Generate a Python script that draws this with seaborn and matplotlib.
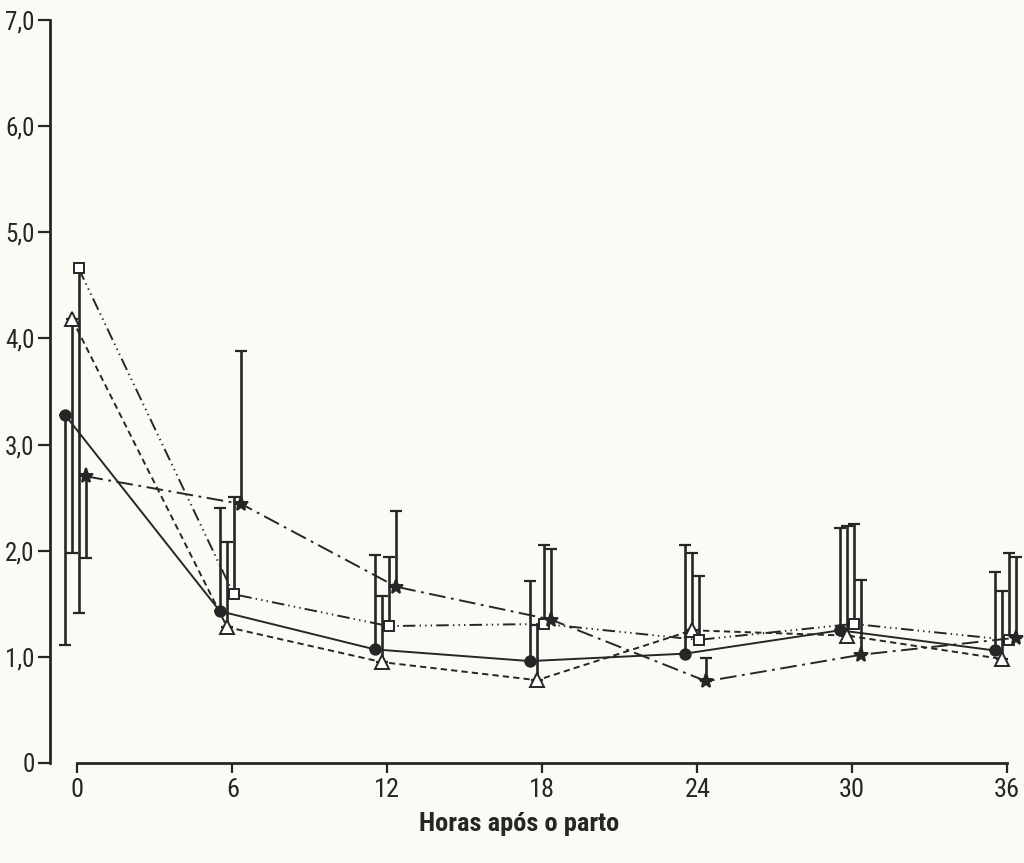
import matplotlib
matplotlib.use('Agg')
import matplotlib.pyplot as plt
import numpy as np
import pandas as pd
import seaborn as sns

# Horas após o parto
horas = [0, 6, 12, 18, 24, 30, 36]

# Médias e desvios (4 grupos)
circulo_media = [3.28, 1.43, 1.07, 0.96, 1.03, 1.25, 1.06]
circulo_dp = [2.17, 0.97, 0.89, 0.75, 1.02, 0.96, 0.74]

triangulo_media = [4.18, 1.28, 0.95, 0.78, 1.25, 1.20, 0.98]
triangulo_dp = [2.20, 0.80, 0.62, 0.52, 0.73, 1.03, 0.64]

quadrado_media = [4.66, 1.59, 1.29, 1.31, 1.16, 1.31, 1.16]
quadrado_dp = [3.25, 0.92, 0.65, 0.74, 0.60, 0.94, 0.82]

estrela_media = [2.70, 2.44, 1.66, 1.35, 0.77, 1.02, 1.18]
estrela_dp = [0.77, 1.44, 0.71, 0.67, 0.22, 0.70, 0.76]

y_ticks = [0, 1, 2, 3, 4, 5, 6, 7]
y_labels = ['0', '1,0', '2,0', '3,0', '4,0', '5,0', '6,0', '7,0']

sns.set_theme(style='ticks')
plt.rcParams['font.family'] = ['Roboto Condensed', 'Liberation Sans Narrow',
                               'Liberation Sans', 'DejaVu Sans']
plt.rcParams['lines.scale_dashes'] = False

TINTA = '#262626'
PAPEL = '#fbfbf6'

fig = plt.figure(figsize=(10.24, 8.63), dpi=100, facecolor=PAPEL)
ax = fig.add_axes([0.0488, 0.1159, 0.9512, 0.8609])
ax.set_facecolor(PAPEL)

series = [
    # media, dp, deslocamento, marcador, preenchimento, tamanho, estilo
    (circulo_media, circulo_dp, -0.48, 'o', TINTA, 7.5, '-'),
    (triangulo_media, triangulo_dp, -0.20, '^', 'white', 9.5, (0, (4.5, 3))),
    (quadrado_media, quadrado_dp, 0.05, 's', 'white', 7.5, (0, (9, 3, 1, 3, 1, 3, 1, 3))),
    (estrela_media, estrela_dp, 0.35, '*', TINTA, 11, (0, (12, 4, 2, 4))),
]

h = np.array(horas, dtype=float)
for media, dp, desl, marc, face, tam, estilo in series:
    dp = np.array(dp)
    inferior = np.where(h == 0, dp, 0)
    superior = np.where(h == 0, 0, dp)
    df = pd.DataFrame({'x': h + desl, 'y': media})
    ax.errorbar(df['x'], df['y'], yerr=[inferior, superior], fmt='none',
                ecolor=TINTA, elinewidth=1.9, capsize=4, capthick=1.6, zorder=2)
    sns.lineplot(data=df, x='x', y='y', ax=ax, color=TINTA, linewidth=1.4,
                 linestyle=estilo, marker=marc, markersize=tam,
                 markerfacecolor=face, markeredgecolor=TINTA,
                 markeredgewidth=1.4, zorder=3, legend=False, clip_on=False)

ax.set_xlim(-1.06, 36.65)
ax.set_ylim(0, 7)
ax.set_xticks(horas)
ax.set_xticklabels([str(v) for v in horas], fontsize=19, color=TINTA)
ax.set_yticks(y_ticks)
ax.set_yticklabels(y_labels, fontsize=18, color=TINTA)
ax.set_xlabel('')
ax.set_ylabel('')

for lado in ['top', 'right']:
    ax.spines[lado].set_visible(False)
ax.spines['left'].set_linewidth(2.0)
ax.spines['bottom'].set_linewidth(2.0)
ax.spines['left'].set_color(TINTA)
ax.spines['bottom'].set_color(TINTA)
ax.spines['bottom'].set_bounds(0, 36)
ax.tick_params(axis='x', direction='out', length=7, width=1.6, pad=4, colors=TINTA)
ax.tick_params(axis='y', direction='out', length=9, width=1.6, pad=2, colors=TINTA)

fig.text(519 / 1024, 1 - 824 / 863, 'Horas após o parto', ha='center', va='center',
         fontsize=19, fontweight='bold', color=TINTA)

fig.savefig('out.png', dpi=100, facecolor=PAPEL)
